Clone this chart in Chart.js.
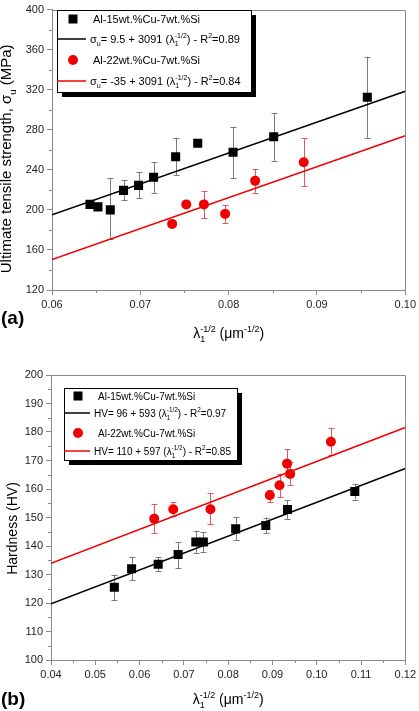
<!DOCTYPE html>
<html>
<head>
<meta charset="utf-8">
<script src="https://cdn.jsdelivr.net/npm/chart.js@4.4.1/dist/chart.umd.min.js"></script>
<style>
  html, body { margin: 0; padding: 0; background: #fff; }
  #wrap { position: relative; width: 419px; height: 711px; overflow: hidden; }
  canvas { position: absolute; left: 0; }
  #cA { top: 0; }
  #cB { top: 345px; }
</style>
</head>
<body>
<div id="wrap">
  <canvas id="cA" width="419" height="345"></canvas>
  <canvas id="cB" width="419" height="366"></canvas>
</div>
<script>
// ---- (a) ultimate tensile strength ----
const aSqX = [0.0643, 0.0652, 0.0666, 0.0681, 0.0698, 0.0715, 0.0740, 0.0765, 0.0805, 0.0851, 0.0957];
const aSqY = [205.5, 203, 200, 219.5, 224.5, 232.5, 253, 266.5, 257.5, 273, 312.5];
const aSqErrUp = [0, 0, 32, 10, 13, 15, 19, 0, 25.5, 24, 40.5];
const aSqErrDn = [0, 0, 29, 10, 13, 15.5, 18.5, 0, 26, 24, 40.5];

const aCiX = [0.0736, 0.0752, 0.0772, 0.0796, 0.0830, 0.0885];
const aCiY = [186, 205.5, 205.5, 196, 229, 247.5];
const aCiErrUp = [0, 0, 13.5, 9, 12, 24];
const aCiErrDn = [0, 0, 13.5, 9, 12, 24];

const aFitX = [0.06, 0.10];
const aFitBlack = [195, 318.5];
const aFitRed = [150.5, 274];

const aXTicks = [0.06, 0.07, 0.08, 0.09, 0.10];
const aYTicks = [120, 160, 200, 240, 280, 320, 360, 400];

// ---- (b) hardness ----
const bSqX = [0.0543, 0.0582, 0.0642, 0.0687, 0.0727, 0.0744, 0.0817, 0.0885, 0.0934, 0.1086];
const bSqY = [125.5, 132, 133.6, 137, 141.4, 141.4, 146, 147.2, 152.8, 159.1];
const bSqErrUp = [4.5, 4, 2.4, 4.5, 4, 3.5, 4.2, 2.8, 3.4, 2.8];
const bSqErrDn = [4.5, 4, 2.4, 4.8, 4, 3.5, 3.8, 2.6, 3.4, 2.8];

const bCiX = [0.0633, 0.0676, 0.0760, 0.0894, 0.0916, 0.0933, 0.0940, 0.1032];
const bCiY = [149.6, 152.9, 152.9, 157.8, 161.3, 168.9, 165.3, 176.6];
const bCiErrUp = [5.1, 2.5, 5.6, 1.8, 4.1, 5, 4, 4.9];
const bCiErrDn = [5, 2.3, 5.3, 2.5, 4.1, 4.5, 4, 4.6];

const bFitX = [0.04, 0.12];
const bFitBlack = [119.7, 167.2];
const bFitRed = [133.9, 181.6];

const bXTicks = [0.04, 0.05, 0.06, 0.07, 0.08, 0.09, 0.10, 0.11, 0.12];
const bYTicks = [100, 110, 120, 130, 140, 150, 160, 170, 180, 190, 200];

const FONT = '"Liberation Sans", Arial, sans-serif';
const AXIS_GREY = '#8a8a8a';

// draw text made of pieces: 'n' normal, 'b' subscript, 'B' subscript stacked under next piece, 'p' superscript
function drawRich(ctx, parts, x, y, size, measureOnly) {
  let cx = x;
  let pending = 0;
  for (const [t, k] of parts) {
    const s = k === 'n' ? size : size * 0.64;
    ctx.font = s + 'px ' + FONT;
    const w = ctx.measureText(t).width;
    let dy = 0;
    if (k === 'b' || k === 'B') dy = size * 0.32;
    if (k === 'p') dy = -size * 0.45;
    if (!measureOnly) ctx.fillText(t, cx, y + dy);
    if (k === 'B') {
      pending = w;
      continue;
    }
    cx += Math.max(w, pending);
    pending = 0;
  }
  return cx - x;
}

function toPoints(xs, ys) {
  return xs.map((x, i) => ({ x: x, y: ys[i] }));
}

// error bars, frame, minor ticks, legend and titles
const decorPlugin = {
  id: 'decor',
  beforeDatasetsDraw(chart) {
    const ctx = chart.ctx;
    const xs = chart.scales.x;
    const ys = chart.scales.y;
    chart.data.datasets.forEach(ds => {
      if (!ds.errUp) return;
      ctx.save();
      ctx.strokeStyle = ds.errColor;
      ctx.lineWidth = 1;
      ds.data.forEach((p, i) => {
        const up = ds.errUp[i], dn = ds.errDn[i];
        if (!up && !dn) return;
        const px = Math.round(xs.getPixelForValue(p.x)) + 0.5;
        const top = ys.getPixelForValue(p.y + up);
        const bot = ys.getPixelForValue(p.y - dn);
        ctx.beginPath();
        ctx.moveTo(px, top); ctx.lineTo(px, bot);
        ctx.moveTo(px - 3, Math.round(top) + 0.5); ctx.lineTo(px + 3, Math.round(top) + 0.5);
        ctx.moveTo(px - 3, Math.round(bot) + 0.5); ctx.lineTo(px + 3, Math.round(bot) + 0.5);
        ctx.stroke();
      });
      ctx.restore();
    });
  },
  afterDraw(chart, args, opts) {
    const ctx = chart.ctx;
    const area = chart.chartArea;
    const xs = chart.scales.x;
    const ys = chart.scales.y;
    ctx.save();
    // top and right frame
    ctx.strokeStyle = AXIS_GREY;
    ctx.lineWidth = 1;
    ctx.beginPath();
    ctx.moveTo(Math.round(area.left) + 0.5, Math.round(area.top) + 0.5);
    ctx.lineTo(Math.round(area.right) + 0.5, Math.round(area.top) + 0.5);
    ctx.lineTo(Math.round(area.right) + 0.5, Math.round(area.bottom) + 0.5);
    ctx.stroke();
    // minor ticks halfway between majors
    ctx.beginPath();
    for (let i = 0; i < xs.ticks.length - 1; i++) {
      const v = (xs.ticks[i].value + xs.ticks[i + 1].value) / 2;
      const px = Math.round(xs.getPixelForValue(v)) + 0.5;
      ctx.moveTo(px, area.bottom); ctx.lineTo(px, area.bottom + 3);
    }
    for (let i = 0; i < ys.ticks.length - 1; i++) {
      const v = (ys.ticks[i].value + ys.ticks[i + 1].value) / 2;
      const py = Math.round(ys.getPixelForValue(v)) + 0.5;
      ctx.moveTo(area.left, py); ctx.lineTo(area.left - 3, py);
    }
    ctx.stroke();

    // legend box with shadow
    const L = opts.legend;
    ctx.fillStyle = '#000';
    ctx.fillRect(L.x + 5, L.y + 5, L.w, L.h);
    ctx.fillStyle = '#fff';
    ctx.fillRect(L.x, L.y, L.w, L.h);
    ctx.strokeStyle = '#000';
    ctx.strokeRect(L.x + 0.5, L.y + 0.5, L.w, L.h);
    L.rows.forEach(r => {
      ctx.fillStyle = r.color;
      ctx.strokeStyle = r.color;
      if (r.kind === 'square') {
        ctx.fillRect(L.markX - 4.5, r.y - 4.5, 9, 9);
      } else if (r.kind === 'circle') {
        ctx.beginPath();
        ctx.arc(L.markX, r.y, 5, 0, Math.PI * 2);
        ctx.fill();
      } else {
        ctx.lineWidth = 1.5;
        ctx.beginPath();
        ctx.moveTo(L.x, r.y); ctx.lineTo(L.lineEnd, r.y);
        ctx.stroke();
      }
      ctx.fillStyle = '#000';
      ctx.textBaseline = 'alphabetic';
      drawRich(ctx, r.text, r.kind === 'line' ? L.lineText : L.markText, r.y + L.size * 0.36, L.size);
    });

    // axis titles
    ctx.fillStyle = '#000';
    const xt = opts.xTitle;
    const xw = drawRich(ctx, xt.parts, 0, 0, xt.size, true);
    drawRich(ctx, xt.parts, (area.left + area.right) / 2 - xw / 2, xt.y, xt.size);
    const yt = opts.yTitle;
    const yw = drawRich(ctx, yt.parts, 0, 0, yt.size, true);
    ctx.save();
    ctx.translate(yt.x, (area.top + area.bottom) / 2 + yt.dy);
    ctx.rotate(-Math.PI / 2);
    drawRich(ctx, yt.parts, -yw / 2, 0, yt.size);
    ctx.restore();

    // panel tag
    ctx.font = 'bold 19px ' + FONT;
    ctx.fillText(opts.tag.text, 1, opts.tag.y);
    ctx.restore();
  }
};

function axisOpts(min, max, step, digits, size, isX, ticksList) {
  return {
    type: 'linear',
    min: min,
    max: max,
    afterBuildTicks: s => { s.ticks = ticksList.map(v => ({ value: v })); },
    ticks: {
      stepSize: step,
      color: '#222',
      padding: 3,
      font: { family: FONT, size: 11 },
      callback: v => Number(v).toFixed(digits)
    },
    grid: { drawOnChartArea: false, drawTicks: true, tickLength: 5, color: AXIS_GREY, lineWidth: 1 },
    border: { display: true, color: AXIS_GREY, width: 1 },
    afterFit: s => { if (isX) s.height = size; else s.width = size; }
  };
}

function makeChart(id, sets, scales, padding, decor) {
  return new Chart(document.getElementById(id), {
    type: 'scatter',
    data: {
      datasets: [
        {
          data: toPoints(sets.sqX, sets.sqY),
          errUp: sets.sqUp, errDn: sets.sqDn, errColor: '#7a7a7a',
          pointStyle: 'rect', pointRadius: 6.4, backgroundColor: '#000', borderColor: '#000', borderWidth: 0
        },
        {
          data: toPoints(sets.fitX, sets.fitBlack),
          showLine: true, pointRadius: 0, borderColor: '#000', borderWidth: 1.5
        },
        {
          data: toPoints(sets.ciX, sets.ciY),
          errUp: sets.ciUp, errDn: sets.ciDn, errColor: '#ee5555',
          pointStyle: 'circle', pointRadius: 5, backgroundColor: '#f00000', borderColor: '#f00000', borderWidth: 0
        },
        {
          data: toPoints(sets.fitX, sets.fitRed),
          showLine: true, pointRadius: 0, borderColor: '#f00000', borderWidth: 1.5
        }
      ]
    },
    options: {
      responsive: false,
      devicePixelRatio: 1,
      animation: false,
      layout: { padding: padding },
      plugins: {
        legend: { display: false },
        tooltip: { enabled: false },
        decor: decor
      },
      scales: scales
    },
    plugins: [decorPlugin]
  });
}

const lam = [['λ', 'n'], ['1', 'B'], ['-1/2', 'p']];

makeChart('cA',
  { sqX: aSqX, sqY: aSqY, sqUp: aSqErrUp, sqDn: aSqErrDn, ciX: aCiX, ciY: aCiY, ciUp: aCiErrUp, ciDn: aCiErrDn,
    fitX: aFitX, fitBlack: aFitBlack, fitRed: aFitRed },
  { x: axisOpts(0.06, 0.10, 0.01, 2, 55, true, aXTicks), y: axisOpts(120, 400, 40, 0, 52, false, aYTicks) },
  { top: 6, right: 11, left: 0, bottom: 0 },
  {
    legend: {
      x: 57, y: 10, w: 194, h: 82, size: 11, markX: 73, markText: 93, lineEnd: 86, lineText: 90,
      rows: [
        { kind: 'square', color: '#000', y: 19, text: [['Al-15wt.%Cu-7wt.%Si', 'n']] },
        { kind: 'line', color: '#000', y: 39, text: [['σ', 'n'], ['u', 'b'], ['= 9.5 + 3091 (', 'n']].concat(lam, [[') - R', 'n'], ['2', 'p'], ['=0.89', 'n']]) },
        { kind: 'circle', color: '#f00000', y: 60, text: [['Al-22wt.%Cu-7wt.%Si', 'n']] },
        { kind: 'line', color: '#f00000', y: 81, text: [['σ', 'n'], ['u', 'b'], ['= -35 + 3091 (', 'n']].concat(lam, [[') - R', 'n'], ['2', 'p'], ['=0.84', 'n']]) }
      ]
    },
    xTitle: { y: 338, size: 14, parts: lam.concat([[' (μm', 'n'], ['-1/2', 'p'], [')', 'n']]) },
    yTitle: { x: 11, dy: 9, size: 15, parts: [['Ultimate tensile strength, σ', 'n'], ['u', 'b'], [' (MPa)', 'n']] },
    tag: { text: '(a)', y: 324 }
  }
);

makeChart('cB',
  { sqX: bSqX, sqY: bSqY, sqUp: bSqErrUp, sqDn: bSqErrDn, ciX: bCiX, ciY: bCiY, ciUp: bCiErrUp, ciDn: bCiErrDn,
    fitX: bFitX, fitBlack: bFitBlack, fitRed: bFitRed },
  { x: axisOpts(0.04, 0.12, 0.01, 2, 51, true, bXTicks), y: axisOpts(100, 200, 10, 0, 51, false, bYTicks) },
  { top: 30, right: 12, left: 0, bottom: 0 },
  {
    legend: {
      x: 64, y: 43, w: 173, h: 72, size: 10, markX: 78, markText: 98, lineEnd: 90, lineText: 94,
      rows: [
        { kind: 'square', color: '#000', y: 51, text: [['Al-15wt.%Cu-7wt.%Si', 'n']] },
        { kind: 'line', color: '#000', y: 68, text: [['HV= 96 + 593 (', 'n']].concat(lam, [[') - R', 'n'], ['2', 'p'], ['=0.97', 'n']]) },
        { kind: 'circle', color: '#f00000', y: 88, text: [['Al-22wt.%Cu-7wt.%Si', 'n']] },
        { kind: 'line', color: '#f00000', y: 106, text: [['HV= 110 + 597 (', 'n']].concat(lam, [[') - R', 'n'], ['2', 'p'], ['=0.85', 'n']]) }
      ]
    },
    xTitle: { y: 359, size: 14, parts: lam.concat([[' (μm', 'n'], ['-1/2', 'p'], [')', 'n']]) },
    yTitle: { x: 17, dy: 11, size: 14, parts: [['Hardness (HV)', 'n']] },
    tag: { text: '(b)', y: 360 }
  }
);
</script>
</body>
</html>
